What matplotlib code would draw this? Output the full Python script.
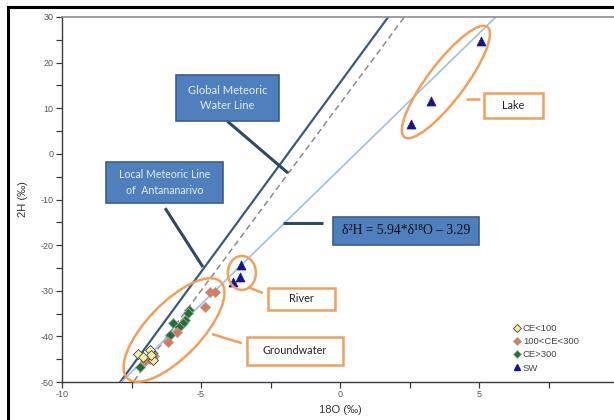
import matplotlib
matplotlib.use("Agg")
import matplotlib.pyplot as plt
import numpy as np
from matplotlib.patches import Ellipse, Rectangle
from matplotlib.transforms import ScaledTranslation
from matplotlib.lines import Line2D

# isotope samples (delta 18O, delta 2H) in permil
ce_low_x = [-7.25, -6.83, -6.72, -6.81, -7.1]
ce_low_y = [-43.9, -43.0, -45.2, -44.1, -44.6]

ce_mid_x = [-4.68, -4.50, -4.85, -5.85, -6.20, -6.85, -7.00, -6.70]
ce_mid_y = [-30.3, -30.3, -33.6, -39.0, -41.2, -45.0, -45.5, -44.3]

ce_high_x = [-5.42, -5.46, -5.58, -5.64, -6.00, -6.12, -6.72, -7.19, -5.80]
ce_high_y = [-34.2, -34.9, -36.4, -37.1, -37.0, -39.7, -43.7, -46.8, -38.0]

sw_x = [5.07, 3.27, 2.55, -3.57, -3.60, -3.86]
sw_y = [24.7, 11.6, 6.5, -24.4, -27.0, -28.0]

# meteoric lines: slope, intercept
gmwl_solid = (8.3, 15.6)
gmwl_dashed = (8.2, 11.0)
lmwl = (5.94, -3.29)

legend_labels = ["CE<100", "100<CE<300", "CE>300", "SW"]

W, H = 614, 420
fig = plt.figure(figsize=(W / 100, H / 100), dpi=100)
ax = fig.add_axes([62 / W, (H - 382) / H, (618 - 62) / W, (382 - 17) / H])
ax.set_xlim(-10, 10)
ax.set_ylim(-50, 30)

xs = np.array([-10.0, 10.0])
ax.plot(xs, gmwl_solid[0] * xs + gmwl_solid[1], color="#3c5a7e", lw=1.6, zorder=2)
ax.plot(xs, gmwl_dashed[0] * xs + gmwl_dashed[1], color="#8a8a8a", lw=1.1,
        ls=(0, (4, 2.5)), zorder=2)
ax.plot(xs, lmwl[0] * xs + lmwl[1], color="#9dbfe8", lw=1.2, zorder=2)

ax.scatter(ce_high_x, ce_high_y, marker="D", s=26, c="#1f7034", edgecolors="#9aa59a",
           linewidths=0.6, zorder=4, label=legend_labels[2])
ax.scatter(ce_mid_x, ce_mid_y, marker="D", s=26, c="#de7a52", edgecolors="#a0a0a0",
           linewidths=0.6, zorder=4, label=legend_labels[1])
ax.scatter(ce_low_x, ce_low_y, marker="D", s=26, c="#f4f0a6", edgecolors="#444444",
           linewidths=0.6, zorder=5, label=legend_labels[0])
ax.scatter(sw_x, sw_y, marker="^", s=42, c="#141496", edgecolors="#141496",
           linewidths=0.5, zorder=5, label=legend_labels[3])

# axes styling
ax.spines["right"].set_visible(False)
ax.spines["top"].set_color("#8c8c8c")
ax.spines["top"].set_linewidth(1.2)
for s in ["left", "bottom"]:
    ax.spines[s].set_color("#3a3a3a")
    ax.spines[s].set_linewidth(1.0)
ax.set_xticks(np.arange(-10, 10.1, 2.5))
ax.set_xticklabels(["-10", "", "-5", "", "0", "", "5", "", "10"])
ax.set_yticks(np.arange(-50, 30.1, 5))
ax.set_yticklabels([str(v) if v % 10 == 0 else "" for v in range(-50, 31, 5)])
ax.tick_params(axis="both", direction="out", length=4, width=0.9, color="#3a3a3a",
               labelsize=6.5, labelcolor="#555555", pad=2)
for lab in ax.get_xticklabels() + ax.get_yticklabels():
    lab.set_family("Liberation Sans")
ax.set_xlabel("18O (‰)", fontsize=8, color="#333333", family="Liberation Sans", labelpad=4)
ax.set_ylabel("2H (‰)", fontsize=8, color="#333333", family="Liberation Sans", labelpad=9)

# legend
leg = ax.legend(handles=[
    Line2D([], [], marker="D", ls="", ms=4, mfc="#f4f0a6", mec="#444444", mew=0.6),
    Line2D([], [], marker="D", ls="", ms=4, mfc="#de7a52", mec="#a0a0a0", mew=0.6),
    Line2D([], [], marker="D", ls="", ms=4, mfc="#1f7034", mec="#9aa59a", mew=0.6),
    Line2D([], [], marker="^", ls="", ms=5, mfc="#141496", mec="#141496"),
], labels=legend_labels, loc="upper left", bbox_to_anchor=(0.806, 0.172),
    frameon=False, fontsize=6.8, handlelength=0.5, handletextpad=0.35,
    labelspacing=0.45, borderpad=0)
for t in leg.get_texts():
    t.set_color("#444444")
    t.set_family("Liberation Sans")


def at(x, y):
    return fig.dpi_scale_trans + ScaledTranslation(x, y, ax.transData)


def ring(x, y, w, h, angle):
    e = Ellipse((0, 0), w / 100, h / 100, angle=angle, transform=at(x, y),
                fill=False, ec="#f0a05a", lw=1.8, zorder=6, clip_on=False)
    fig.add_artist(e)


def box(x, y, w, h, text, fc, ec, tc, family, size, lw=1.2):
    r = Rectangle((-w / 200, -h / 200), w / 100, h / 100, transform=at(x, y),
                  fc=fc, ec=ec, lw=lw, zorder=7, clip_on=False)
    fig.add_artist(r)
    fig.text(0, 0, text, transform=at(x, y), ha="center", va="center",
             color=tc, family=family, fontsize=size, zorder=8, linespacing=1.5)


def pointer(x0, y0, x1, y1, color, lw):
    ax.plot([x0, x1], [y0, y1], color=color, lw=lw, zorder=6, clip_on=False,
            solid_capstyle="butt")


ring(-5.97, -38.6, 134, 54, 46)
ring(3.81, 15.75, 138, 37, 53)
ring(-3.53, -26.1, 28, 34, 0)

pointer(-4.06, 7.2, -1.87, -4.2, "#2f4866", 2.2)
pointer(-6.29, -11.9, -4.93, -24.8, "#2f4866", 2.2)
pointer(-2.05, -15.15, -0.61, -15.15, "#2f4866", 2.2)
pointer(4.53, 12.0, 5.04, 12.0, "#f0a05a", 1.8)
pointer(-3.31, -29.2, -2.77, -30.5, "#f0a05a", 1.8)
pointer(-4.60, -39.5, -3.53, -41.5, "#f0a05a", 1.8)

sans = ["Lato", "DejaVu Sans"]
box(-4.05, 12.25, 103, 46, "Global Meteoric\nWater Line", "#4f7fbd", "#3b5f8e",
    "#e6edf6", sans, 8)
box(-6.31, -6.27, 117, 41, "Local Meteoric Line\nof  Antananarivo", "#4f7fbd", "#3b5f8e",
    "#e6edf6", sans, 7.6)
box(2.37, -16.9, 146, 28, "δ²H = 5.94*δ¹⁸O – 3.29", "#4f7fbd", "#3b5f8e",
    "#111111", ["Liberation Serif", "DejaVu Serif"], 9.8)
box(6.24, 10.6, 59, 25, "Lake", "white", "#f0a05a", "#222222", sans, 7.8, lw=1.8)
box(-1.38, -31.8, 67, 22, "River", "white", "#f0a05a", "#222222", sans, 7.8, lw=1.8)
box(-1.62, -43.2, 96, 28, "Groundwater", "white", "#f0a05a", "#222222", sans, 7.8, lw=1.8)

# outer frame
fig.add_artist(Line2D([8 / W, 1], [1 - 7 / H, 1 - 7 / H], transform=fig.transFigure,
                      color="black", lw=2.2))
fig.add_artist(Line2D([8 / W, 8 / W], [0, 1 - 7 / H], transform=fig.transFigure,
                      color="black", lw=2.2))

fig.savefig("out.png", dpi=100)
